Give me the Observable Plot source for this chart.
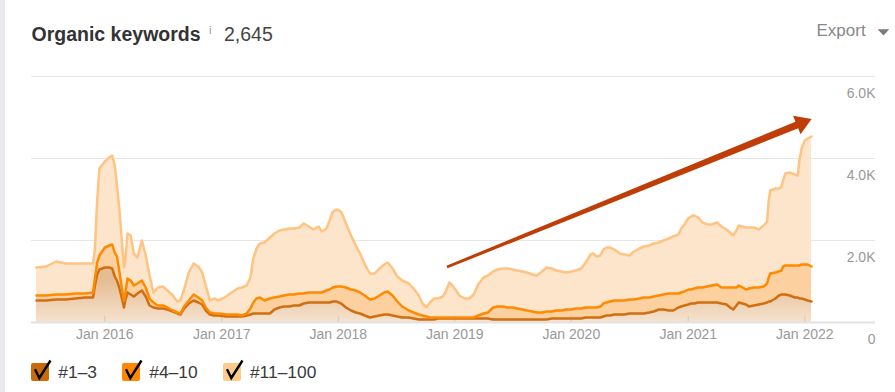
<!DOCTYPE html>
<html><head><meta charset="utf-8">
<script src="https://cdn.jsdelivr.net/npm/d3@7"></script>
<script src="https://cdn.jsdelivr.net/npm/@observablehq/plot@0.6"></script>
<style>
html,body{margin:0;padding:0;background:#fff;}
#wrap{position:relative;width:895px;height:392px;overflow:hidden;font-family:"Liberation Sans",Arial,Helvetica,sans-serif;background:#fff;}
#wrap > svg{position:absolute;left:0;top:0;}
.abs{position:absolute;white-space:nowrap;}
</style></head><body><div id="wrap"></div>
<script>
const dates = [
"2015-06-01","2015-07-01","2015-08-01","2015-09-01","2015-10-01","2015-11-01","2015-11-25","2015-12-01","2015-12-08","2015-12-15",
"2016-01-01","2016-01-15","2016-01-24","2016-02-01","2016-02-08","2016-02-15","2016-02-22","2016-03-01","2016-03-05","2016-03-12",
"2016-03-22","2016-04-01","2016-04-12","2016-04-26","2016-05-08","2016-05-20","2016-06-01","2016-06-15","2016-07-01","2016-07-15",
"2016-08-01","2016-08-15","2016-08-25","2016-09-05","2016-09-20","2016-10-05","2016-10-20","2016-11-01","2016-11-12","2016-11-25",
"2016-12-08","2016-12-22","2017-01-15","2017-02-01","2017-02-20","2017-03-05","2017-03-20","2017-04-01","2017-04-10","2017-04-20",
"2017-05-01","2017-05-15","2017-06-01","2017-06-15","2017-07-01","2017-07-15","2017-08-01","2017-08-15","2017-09-01","2017-09-15",
"2017-10-01","2017-10-15","2017-11-01","2017-11-10","2017-11-25","2017-12-05","2017-12-15","2017-12-28","2018-01-10","2018-01-25",
"2018-02-10","2018-02-25","2018-03-10","2018-03-25","2018-04-10","2018-04-25","2018-05-10","2018-05-25","2018-06-05","2018-06-20",
"2018-07-05","2018-07-20","2018-08-10","2018-08-25","2018-09-10","2018-09-22","2018-10-05","2018-10-15","2018-10-28","2018-11-10",
"2018-11-25","2018-12-05","2018-12-15","2018-12-25","2019-01-05","2019-01-15","2019-02-01","2019-02-15","2019-03-01","2019-03-15",
"2019-04-01","2019-04-15","2019-05-01","2019-05-15","2019-06-01","2019-06-15","2019-07-01","2019-07-15","2019-08-01","2019-08-15",
"2019-09-01","2019-09-15","2019-10-01","2019-10-15","2019-11-01","2019-11-15","2019-12-01","2019-12-15","2020-01-01","2020-01-15",
"2020-02-01","2020-02-15","2020-03-01","2020-03-10","2020-03-20","2020-04-01","2020-04-10","2020-04-20","2020-05-01","2020-05-15",
"2020-06-01","2020-06-15","2020-07-01","2020-07-15","2020-08-01","2020-08-15","2020-09-01","2020-09-15","2020-10-01","2020-10-15",
"2020-11-01","2020-11-15","2020-12-01","2020-12-10","2020-12-20","2021-01-01","2021-01-10","2021-01-20","2021-02-01","2021-02-15",
"2021-03-01","2021-03-15","2021-04-01","2021-04-15","2021-05-01","2021-05-12","2021-05-22","2021-06-01","2021-06-08","2021-06-20",
"2021-07-01","2021-07-10","2021-07-25","2021-08-10","2021-08-25","2021-09-05","2021-09-10","2021-09-15","2021-10-01","2021-10-12",
"2021-10-20","2021-10-25","2021-11-01","2021-11-15","2021-12-01","2021-12-10","2021-12-15","2021-12-22","2022-01-01","2022-01-10",
"2022-01-22"
];
const kw1to3 = [
537,537,561,561,585,610,610,902,1171,1293,
1341,1341,1317,1122,1024,854,634,366,537,732,
683,634,707,780,634,415,366,341,341,317,
268,220,195,341,463,537,488,439,293,195,
171,171,146,146,146,146,171,195,220,220,
220,220,220,317,366,390,390,415,415,463,
488,488,488,488,488,488,512,512,463,366,
293,244,220,171,122,146,171,195,195,171,
146,122,122,98,73,73,73,73,73,98,
98,98,98,98,98,98,98,98,98,98,
98,98,73,73,73,73,73,73,73,73,
73,73,73,73,98,98,98,98,98,98,
98,122,122,122,122,122,146,171,171,195,
195,195,220,220,220,220,244,268,317,317,
293,293,366,390,415,439,463,463,488,488,
488,488,488,463,439,366,317,415,488,463,
439,390,415,439,463,488,512,512,585,659,
683,683,683,659,610,610,585,585,561,537,
512
];
const kw4to10 = [
122,122,122,122,122,97,122,171,292,341,
488,537,585,585,586,414,268,171,170,341,
341,268,244,244,220,170,122,74,74,49,
25,24,25,49,74,146,122,98,73,49,
49,49,49,49,49,25,49,146,268,365,
390,317,365,293,268,269,293,268,292,244,
244,244,244,244,292,317,342,366,415,488,
512,536,512,488,439,439,488,537,561,488,
366,268,171,146,122,98,73,49,49,24,
24,24,24,24,24,24,24,24,24,73,
122,146,293,317,317,293,293,268,244,220,
195,171,171,195,170,195,195,219,219,243,
243,244,244,244,244,268,317,317,341,342,
342,342,341,341,365,390,366,366,342,366,
414,414,341,342,341,366,342,366,366,366,
390,414,439,391,415,488,537,439,414,391,
366,439,439,415,415,463,586,683,635,585,
585,683,707,731,780,780,805,830,854,878,
854
];
const kw11to100 = [
682,707,805,756,732,732,707,732,1513,2122,
2098,2146,2171,2122,1731,1537,1220,804,805,1098,
1098,781,634,976,780,561,244,439,463,414,
366,268,317,415,683,756,756,683,536,293,
365,317,439,537,634,683,682,757,1073,1220,
1317,1414,1488,1561,1610,1609,1610,1610,1610,1708,
1609,1536,1609,1488,1513,1683,1853,1878,1829,1561,
1317,1098,951,756,634,610,658,683,707,658,
610,634,658,585,464,292,220,366,463,463,
512,658,854,780,658,537,463,463,561,756,
878,902,878,903,927,951,927,927,927,927,
903,902,1000,1073,1049,975,951,903,927,927,
976,1097,1293,1317,1244,1244,1317,1341,1317,1243,
1146,1122,1073,1171,1220,1244,1268,1293,1292,1317,
1342,1391,1439,1561,1634,1732,1780,1781,1707,1585,
1512,1488,1512,1487,1414,1341,1268,1390,1464,1487,
1512,1488,1463,1414,1488,1512,1878,2025,2048,2024,
2049,2097,2244,2268,2220,2195,2561,2829,3024,3073,
3171
];
const seriesNames = ["#1–3", "#4–10", "#11–100"];
const lineColors = ["#d06e12", "#ff8a00", "#ffc382"];
const bandFills = ["url(#kwLowGrad)", "#fdd0a0", "#fde5cc"];
const legendColors = ["#c96b0c", "#ff8800", "#ffcb8d"];
const yTicks = [0, 2000, 4000, 6000];
const yTickLabels = ["0", "2.0K", "4.0K", "6.0K"];
const xTickDates = ["2016-01-01","2017-01-01","2018-01-01","2019-01-01","2020-01-01","2021-01-01","2022-01-01"];
const xTickLabels = ["Jan 2016","Jan 2017","Jan 2018","Jan 2019","Jan 2020","Jan 2021","Jan 2022"];
const titleText = "Organic keywords";
const totalKeywords = "2,645";
const arrowDates = ["2018-12-09", "2022-01-24"];
const arrowValues = [1341, 4951];

const seriesValues = [kw1to3, kw4to10, kw11to100];
const long = [];
seriesValues.forEach((vals, s) => vals.forEach((v, i) => long.push({date: new Date(dates[i]), series: seriesNames[s], s, value: v})));
const xTicks = xTickDates.map((d, i) => ({date: new Date(d), label: xTickLabels[i]}));
const NS = "http://www.w3.org/2000/svg";

function defsMark() {
  const defs = document.createElementNS(NS, "defs");
  defs.innerHTML = '<linearGradient id="kwLowGrad" gradientUnits="userSpaceOnUse" x1="0" y1="280" x2="0" y2="322"><stop offset="0" stop-color="#e6bd93"/><stop offset="1" stop-color="#f5e2cf"/></linearGradient>';
  return defs;
}
function arrowMark(index, scales) {
  const x0 = scales.x(new Date(arrowDates[0])), y0 = scales.y(arrowValues[0]);
  const x1 = scales.x(new Date(arrowDates[1])), y1 = scales.y(arrowValues[1]);
  const dx = x1 - x0, dy = y1 - y0, len = Math.hypot(dx, dy);
  const ux = dx / len, uy = dy / len, nx = -uy, ny = ux;
  const H = 16, W = 10, w0 = 1.4, w1 = 3.6;
  const bx = x1 - ux * H, by = y1 - uy * H;
  const pts = [[x0 + nx * w0, y0 + ny * w0], [bx + nx * w1, by + ny * w1], [bx + nx * W, by + ny * W], [x1, y1],
               [bx - nx * W, by - ny * W], [bx - nx * w1, by - ny * w1], [x0 - nx * w0, y0 - ny * w0]];
  const p = document.createElementNS(NS, "path");
  p.setAttribute("d", "M" + pts.map(q => q[0].toFixed(2) + "," + q[1].toFixed(2)).join("L") + "Z");
  p.setAttribute("fill", "#bf3d06");
  return p;
}

const chart = Plot.plot({
  width: 895, height: 350,
  marginLeft: 36, marginRight: 84, marginTop: 76, marginBottom: 28,
  style: {fontFamily: "'Liberation Sans', Arial, sans-serif", fontSize: "14px", background: "transparent"},
  x: {type: "utc", domain: [new Date(dates[0]), new Date(dates[dates.length - 1])], axis: null},
  y: {domain: [0, 6000], axis: null},
  color: {type: "identity"},
  marks: [
    defsMark,
    Plot.ruleY(yTicks.filter(d => d > 0), {y: d => d, stroke: "#e6e6e6", strokeWidth: 1, insetLeft: -5, insetRight: -64}),
    Plot.areaY(long, Plot.stackY({x: "date", y: "value", z: "series", fill: d => bandFills[d.s], order: seriesNames})),
    Plot.ruleX(xTicks, {x: "date", y1: 0, y2: 150, stroke: "#b8b8b8", strokeOpacity: 0.6}),
    Plot.ruleY([0], {stroke: "#e2e2e2", strokeWidth: 2, insetLeft: -5, insetRight: -64}),
    Plot.lineY(long, Plot.stackY2({x: "date", y: "value", z: "series", stroke: d => lineColors[d.s], strokeWidth: 2.5, order: seriesNames})),
    Plot.text(yTicks, {y: d => d, text: (d, i) => yTickLabels[i], frameAnchor: "right", dx: 64, dy: 17, textAnchor: "end", fill: "#999", fontSize: 14}),
    Plot.text(xTicks, {x: "date", text: "label", frameAnchor: "bottom", dy: 16, fill: "#999", fontSize: 14}),
    arrowMark
  ]
});
const wrap = document.getElementById("wrap");
wrap.appendChild(chart);

function addDiv(text, css) {
  const d = document.createElement("div");
  d.className = "abs";
  d.textContent = text;
  d.style.cssText += css;
  wrap.appendChild(d);
  return d;
}
// left strip
addDiv("", "left:0;top:0;width:5px;height:392px;background:#e9eaed;");
addDiv(titleText, "left:31.5px;top:23.7px;font-size:19.5px;line-height:20px;font-weight:bold;color:#333;");
addDiv("i", "left:209px;top:24.5px;font-size:11.5px;line-height:11px;color:#999;");
addDiv(totalKeywords, "left:224px;top:23.7px;font-size:19.5px;line-height:20px;color:#444;");
addDiv("Export", "left:816.5px;top:21.4px;font-size:17px;line-height:20px;color:#888;");
const tri = document.createElementNS(NS, "svg");
tri.setAttribute("width", "895"); tri.setAttribute("height", "40");
tri.style.cssText = "position:absolute;left:0;top:0;pointer-events:none";
tri.innerHTML = '<polygon points="877.7,29.3 889.3,29.3 883.5,35.5" fill="#7a7a7a"/>';
wrap.appendChild(tri);

const lg = document.createElement("div");
lg.className = "abs";
lg.style.cssText += "left:31px;top:363px;display:flex;align-items:flex-start;";
seriesNames.forEach((name, i) => {
  const item = document.createElement("div");
  item.style.cssText = "display:flex;align-items:flex-start;margin-right:25px;";
  item.innerHTML = '<svg width="18" height="18" style="overflow:visible;display:block;position:static"><rect width="18" height="18" rx="2" fill="' + legendColors[i] + '"/><path d="M4 6.3 L8.3 15 L19.5 -2.5" fill="none" stroke="#000" stroke-width="2.4"/></svg><span style="margin-left:9.3px;font-size:17.4px;line-height:18px;color:#3a3a3a">' + name + '</span>';
  lg.appendChild(item);
});
wrap.appendChild(lg);
</script></body></html>
